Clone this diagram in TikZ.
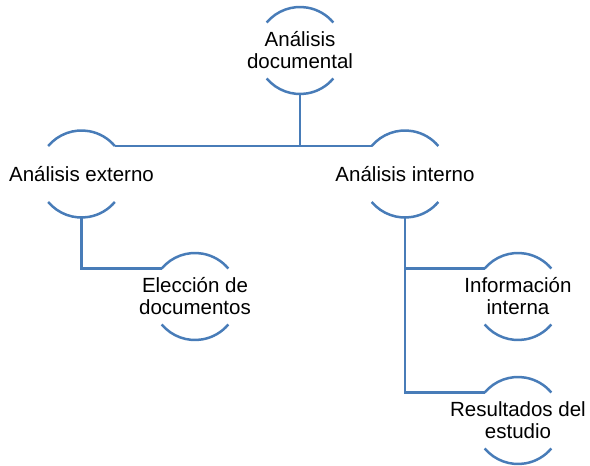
\documentclass[tikz,border=0pt]{standalone}
\usepackage{fontspec}
\setmainfont{Liberation Sans}
\usetikzlibrary{positioning}
\definecolor{lineblue}{RGB}{72,124,184}

\begin{document}
\begin{tikzpicture}[
    x=1pt, y=1pt,
    ring/.style={circle, minimum size=87pt, inner sep=0pt, outer sep=0pt,
        label={[labeltext]center:#1}},
    labeltext/.style={align=center, font=\fontsize{20.5}{22}\selectfont, text=black},
    arcline/.style={lineblue, line width=2.5pt},
    link/.style={lineblue, line width=2.5pt}
]
    \useasboundingbox (0,0) rectangle (590,-466);

    % Nodos
    \node[ring={Análisis\\documental}] (doc) at (300,-50.5) {};
    \node[ring={Análisis externo}] (ext) at (81.5,-174) {};
    \node[ring={Análisis interno}] (int) at (405,-174) {};
    \node[ring={Elección de\\documentos}] (elec) at (195,-296.5) {};
    \node[ring={Información\\interna}] (info) at (518,-296.5) {};
    \node[ring={Resultados del\\estudio}] (res) at (518,-420.5) {};

    % Arcos
    \foreach \n in {doc,ext,int,elec,info,res} {
        \draw[arcline] (\n.140) arc[start angle=140, end angle=40, radius=43.5pt];
        \draw[arcline] (\n.220) arc[start angle=220, end angle=320, radius=43.5pt];
    }

    % Conectores
    \draw[link] (doc.south) -- (doc.south |- ext.40);
    \draw[link] (ext.40) -- (int.140);
    \draw[link] (ext.south) |- (elec.140);
    \draw[link] (int.south) |- (info.140);
    \draw[link] (int.south) |- (res.140);

\end{tikzpicture}
\end{document}
